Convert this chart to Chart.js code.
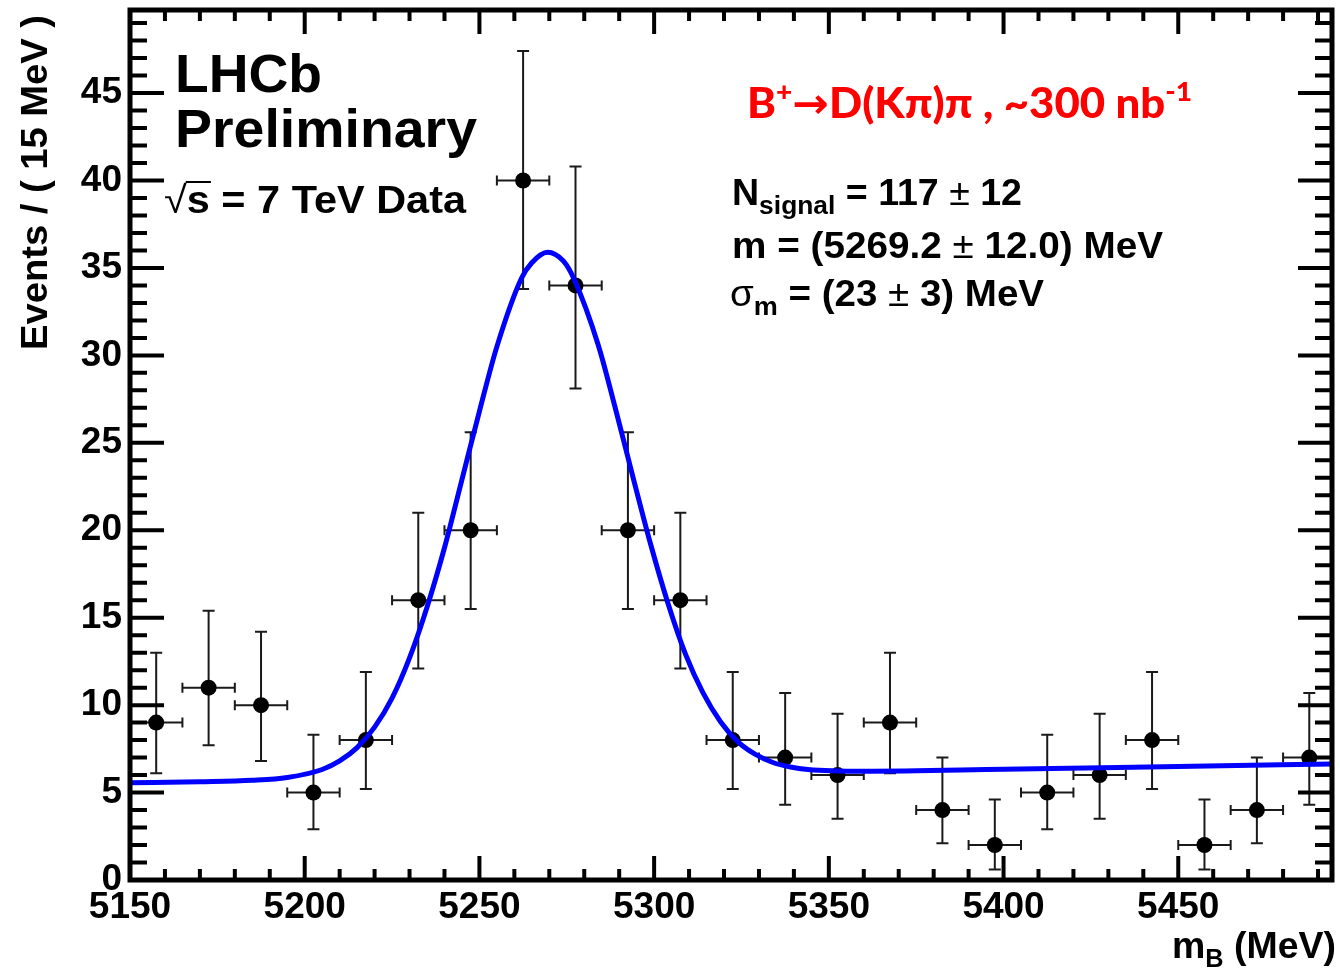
<!DOCTYPE html>
<html>
<head>
<meta charset="utf-8">
<script src="https://cdn.jsdelivr.net/npm/chart.js@4.4.1/dist/chart.umd.min.js"></script>
<style>
  html, body { margin: 0; padding: 0; background: #fff; }
  canvas { display: block; background: #fff; }
</style>
</head>
<body>
<canvas id="myChart" width="1340" height="970" style="width:1340px;height:970px"></canvas>
<script>
// bin centres of the 15 MeV histogram
const binCenters = [5157.5, 5172.5, 5187.5, 5202.5, 5217.5, 5232.5, 5247.5, 5262.5,
    5277.5, 5292.5, 5307.5, 5322.5, 5337.5, 5352.5, 5367.5, 5382.5, 5397.5, 5412.5,
    5427.5, 5442.5, 5457.5, 5472.5, 5487.5];
const counts = [9, 11, 10, 5, 8, 16, 20, 40, 34, 20, 16, 8, 7, 6, 9, 4, 2, 5, 6, 8, 2, 4, 7];
// ends of the asymmetric error bars
const errLow = [6.1, 7.7, 6.8, 2.9, 5.2, 12.1, 15.5, 33.8, 28.1, 15.5, 12.1, 5.2, 4.3,
    3.5, 6.1, 2.1, 0.6, 2.9, 3.5, 5.2, 0.6, 2.1, 4.3];
const errHigh = [13.0, 15.4, 14.2, 8.3, 11.9, 21.0, 25.6, 47.4, 40.8, 25.6, 21.0, 11.9,
    10.7, 9.5, 13.0, 7.0, 4.6, 8.3, 9.5, 11.9, 4.6, 7.0, 10.7];
const binWidth = 15;

// fitted curve (signal + background)
const fitMass = [5150, 5170, 5185, 5195, 5205, 5210, 5215, 5220, 5225, 5230, 5235, 5240,
    5245, 5250, 5255, 5262, 5265, 5269.5, 5274, 5277, 5284, 5289, 5294, 5299, 5304, 5309,
    5314, 5319, 5324, 5329, 5334, 5339, 5344, 5360, 5400, 5450, 5494];
const fitEvents = [5.56, 5.62, 5.70, 5.86, 6.32, 6.81, 7.57, 8.74, 10.4, 12.7, 15.6, 19.0,
    22.9, 26.8, 30.5, 34.4, 35.3, 35.9, 35.4, 34.4, 30.6, 26.9, 23.0, 19.2, 15.8, 12.9,
    10.7, 9.05, 7.9, 7.18, 6.72, 6.46, 6.32, 6.22, 6.33, 6.49, 6.63];

const xTicks = [5150, 5200, 5250, 5300, 5350, 5400, 5450];
const yTicks = [0, 5, 10, 15, 20, 25, 30, 35, 40, 45];

const FONT = '"Liberation Sans", Arial, Helvetica, sans-serif';

// text made of pieces (subscripts etc.), squeezed/stretched to a given width
function richText(ctx, parts, x, y, width, color) {
    let total = 0;
    parts.forEach(function(p) { ctx.font = p.f; total += ctx.measureText(p.t).width; });
    let sx = width ? width / total : 1;
    ctx.save();
    ctx.translate(x, y);
    ctx.scale(sx, 1);
    ctx.fillStyle = color || '#000';
    ctx.strokeStyle = color || '#000';
    ctx.textAlign = 'left';
    ctx.textBaseline = 'alphabetic';
    let cx = 0;
    parts.forEach(function(p) {
        ctx.font = p.f;
        let w = ctx.measureText(p.t).width;
        ctx.fillText(p.t, cx, p.dy || 0);
        if (p.over) {
            ctx.lineWidth = 2;
            ctx.beginPath();
            ctx.moveTo(cx - 1, p.over);
            ctx.lineTo(cx + w + 1, p.over);
            ctx.stroke();
        }
        cx += w;
    });
    ctx.restore();
}

const errorBars = {
    id: 'errorBars',
    beforeDatasetsDraw(chart) {
        const ctx = chart.ctx, xs = chart.scales.x, ys = chart.scales.y, a = chart.chartArea;
        ctx.save();
        ctx.beginPath();
        ctx.rect(a.left, a.top, a.right - a.left, a.bottom - a.top);
        ctx.clip();
        ctx.strokeStyle = '#1a1a1a';
        ctx.lineWidth = 2;
        binCenters.forEach(function(m, i) {
            let px = xs.getPixelForValue(m);
            let py = ys.getPixelForValue(counts[i]);
            let x1 = xs.getPixelForValue(m - binWidth / 2);
            let x2 = xs.getPixelForValue(m + binWidth / 2);
            let y1 = ys.getPixelForValue(errHigh[i]);
            let y2 = ys.getPixelForValue(errLow[i]);
            ctx.beginPath();
            ctx.moveTo(x1, py); ctx.lineTo(x2, py);
            ctx.moveTo(x1, py - 5); ctx.lineTo(x1, py + 5);
            ctx.moveTo(x2, py - 5); ctx.lineTo(x2, py + 5);
            ctx.moveTo(px, y1); ctx.lineTo(px, y2);
            ctx.moveTo(px - 6, y1); ctx.lineTo(px + 6, y1);
            ctx.moveTo(px - 6, y2); ctx.lineTo(px + 6, y2);
            ctx.stroke();
        });
        ctx.restore();
    }
};

// ROOT style frame, inner ticks on all four sides, titles and labels
const rootFrame = {
    id: 'rootFrame',
    afterDatasetsDraw(chart) {
        const ctx = chart.ctx, xs = chart.scales.x, ys = chart.scales.y, a = chart.chartArea;
        ctx.save();
        ctx.strokeStyle = '#000';
        ctx.lineWidth = 4;
        ctx.beginPath();
        for (let v = xs.min; v <= xs.max; v += 10) {
            let px = xs.getPixelForValue(v);
            let len = (Math.round(v) % 50 === 0) ? 24 : 11;
            ctx.moveTo(px, a.bottom); ctx.lineTo(px, a.bottom - len);
            ctx.moveTo(px, a.top); ctx.lineTo(px, a.top + len);
        }
        for (let v = ys.min; v <= ys.max; v += 1) {
            let py = ys.getPixelForValue(v);
            let len = (v % 5 === 0) ? 34 : 17;
            ctx.moveTo(a.left, py); ctx.lineTo(a.left + len, py);
            ctx.moveTo(a.right, py); ctx.lineTo(a.right - len, py);
        }
        ctx.stroke();
        ctx.lineWidth = 5;
        ctx.strokeRect(a.left, a.top, a.right - a.left, a.bottom - a.top);
        ctx.restore();

        // axis titles
        ctx.save();
        ctx.translate(47, 15);
        ctx.rotate(-Math.PI / 2);
        ctx.font = 'bold 36px ' + FONT;
        let t = 'Events / ( 15 MeV )';
        let w = ctx.measureText(t).width;
        ctx.scale(335 / w, 1);
        ctx.fillStyle = '#000';
        ctx.textAlign = 'right';
        ctx.fillText(t, 0, 0);
        ctx.restore();

        richText(ctx, [
            { t: 'm', f: 'bold 37px ' + FONT },
            { t: 'B', f: 'bold 25px ' + FONT, dy: 9 },
            { t: ' (MeV)', f: 'bold 37px ' + FONT }
        ], 1172, 958, 164);

        // labels in the plot
        richText(ctx, [{ t: 'LHCb', f: 'bold 54px ' + FONT }], 175, 92, 147);
        richText(ctx, [{ t: 'Preliminary', f: 'bold 53px ' + FONT }], 175, 147, 302);
        richText(ctx, [
            { t: '\u221A', f: '38px ' + FONT },
            { t: 's', f: 'bold 38px ' + FONT, over: -31 },
            { t: ' = 7 TeV Data', f: 'bold 38px ' + FONT }
        ], 164, 213, 302);

        const RED = '"Lato", "Open Sans", "DejaVu Sans", sans-serif';
        richText(ctx, [
            { t: 'B', f: '900 42px ' + RED },
            { t: '+', f: '900 27px ' + RED, dy: -17 },
            { t: '\u2192', f: 'bold 42px "DejaVu Sans", sans-serif' },
            { t: 'D(K\u03C0)\u03C0 , ~300 nb', f: '900 42px ' + RED },
            { t: '-1', f: '900 27px ' + RED, dy: -17 }
        ], 747, 118, 445, '#ff0000');

        richText(ctx, [
            { t: 'N', f: 'bold 37px ' + FONT },
            { t: 'signal', f: 'bold 26px ' + FONT, dy: 9 },
            { t: ' = 117 ', f: 'bold 37px ' + FONT },
            { t: '\u00B1', f: '37px ' + FONT },
            { t: ' 12', f: 'bold 37px ' + FONT }
        ], 732, 205, 290);
        richText(ctx, [
            { t: 'm = (5269.2 ', f: 'bold 37px ' + FONT },
            { t: '\u00B1', f: '37px ' + FONT },
            { t: ' 12.0) MeV', f: 'bold 37px ' + FONT }
        ], 732, 258, 431);
        richText(ctx, [
            { t: '\u03C3', f: '37px ' + FONT },
            { t: 'm', f: 'bold 26px ' + FONT, dy: 9 },
            { t: ' = (23 ', f: 'bold 37px ' + FONT },
            { t: '\u00B1', f: '37px ' + FONT },
            { t: ' 3) MeV', f: 'bold 37px ' + FONT }
        ], 730, 306, 314);
    }
};

let ctx = document.getElementById('myChart').getContext('2d');
new Chart(ctx, {
    type: 'scatter',
    data: {
        datasets: [{
            label: 'fit',
            type: 'line',
            data: fitMass.map(function(m, i) { return { x: m, y: fitEvents[i] }; }),
            borderColor: '#0000ff',
            borderWidth: 5,
            pointRadius: 0,
            fill: false,
            cubicInterpolationMode: 'monotone',
            order: 0
        }, {
            label: 'data',
            data: binCenters.map(function(m, i) { return { x: m, y: counts[i] }; }),
            pointRadius: 8,
            pointBackgroundColor: '#000',
            pointBorderColor: '#000',
            pointBorderWidth: 0,
            order: 1
        }]
    },
    options: {
        responsive: false,
        animation: false,
        devicePixelRatio: 1,
        layout: { padding: { top: 10, right: 5, left: 0, bottom: 0 } },
        plugins: { legend: { display: false }, tooltip: { enabled: false } },
        scales: {
            x: {
                type: 'linear',
                min: 5150,
                max: 5494,
                afterFit: function(s) { s.height = 90; s.paddingLeft = 0; s.paddingRight = 0; },
                afterBuildTicks: function(s) { s.ticks = xTicks.map(function(v) { return { value: v }; }); },
                grid: { display: false, drawTicks: false },
                border: { display: false },
                ticks: {
                    autoSkip: false, maxRotation: 0, padding: 6, color: '#000',
                    font: { family: FONT, size: 37, weight: 'bold' },
                    callback: function(v) { return String(v); }
                }
            },
            y: {
                type: 'linear',
                min: 0,
                max: 49.75,
                afterFit: function(s) { s.width = 130; s.paddingTop = 0; s.paddingBottom = 0; },
                afterBuildTicks: function(s) { s.ticks = yTicks.map(function(v) { return { value: v }; }); },
                grid: { display: false, drawTicks: false },
                border: { display: false },
                ticks: {
                    autoSkip: false, padding: 8, color: '#000',
                    font: { family: FONT, size: 37, weight: 'bold' },
                    callback: function(v) { return String(v); }
                }
            }
        }
    },
    plugins: [errorBars, rootFrame]
});
</script>
</body>
</html>
